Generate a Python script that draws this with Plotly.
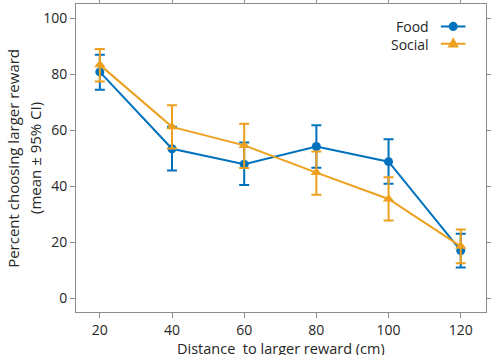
import plotly.graph_objects as go

distance = [20, 40, 60, 80, 100, 120]
food_mean = [80.8, 53.4, 47.9, 54.2, 48.8, 17.1]
food_upper = [86.9, 61.2, 55.6, 61.8, 56.8, 23.1]
food_lower = [74.4, 45.6, 40.5, 46.6, 40.9, 11.1]
social_mean = [83.3, 61.2, 54.6, 44.9, 35.5, 18.6]
social_upper = [89.0, 68.9, 62.3, 52.4, 43.2, 24.6]
social_lower = [77.4, 53.5, 46.5, 37.0, 27.8, 12.6]

BLUE = "#0072BD"
ORANGE = "#EDA01E"
TXT = "#262626"
AX = "#8c8c8c"

fig = go.Figure()

def add(name, mean, up, lo, color, symbol, size):
    fig.add_trace(go.Scatter(
        x=distance, y=mean, name=name, mode="lines+markers",
        line=dict(color=color, width=2),
        marker=dict(color=color, symbol=symbol, size=size),
        error_y=dict(type="data", symmetric=False,
                     array=[u - m for u, m in zip(up, mean)],
                     arrayminus=[m - l for m, l in zip(mean, lo)],
                     color=color, thickness=2, width=5),
        showlegend=False))

add("Food", food_mean, food_upper, food_lower, BLUE, "circle", 9)
add("Social", social_mean, social_upper, social_lower, ORANGE, "triangle-up", 10)

axis_common = dict(showline=True, linecolor=AX, linewidth=1, mirror="ticks",
                   ticks="outside", ticklen=5, tickcolor=AX, showgrid=False,
                   zeroline=False, automargin=False, tickfont=dict(size=14, color=TXT))

fig.update_xaxes(range=[13.4, 127], tickvals=distance, **axis_common)
fig.update_yaxes(range=[-4.8, 105], tickvals=[0, 20, 40, 60, 80, 100], **axis_common)

# Axis titles
fig.add_annotation(x=0.5, y=-0.116, xref="paper", yref="paper", text="Distance  to larger reward (cm)",
                   showarrow=False, xanchor="center", yanchor="middle", height=14,
                   font=dict(size=14.5, color=TXT))
fig.add_annotation(x=-0.154, y=0.5, xref="paper", yref="paper", text="Percent choosing larger reward",
                   showarrow=False, textangle=-90, xanchor="center", yanchor="middle",
                   font=dict(size=15, color=TXT))
fig.add_annotation(x=-0.1, y=0.5, xref="paper", yref="paper", text="(mean ± 95% CI)",
                   showarrow=False, textangle=-90, xanchor="center", yanchor="middle",
                   font=dict(size=15, color=TXT))

# Legend (text to the left of symbol)
legend_items = [("Food", BLUE, "circle", 0.927), ("Social", ORANGE, "triangle", 0.871)]
for label, color, sym, yp in legend_items:
    fig.add_annotation(x=0.865, y=yp, xref="paper", yref="paper", text=label,
                       showarrow=False, xanchor="right", yanchor="middle", height=16,
                       font=dict(size=14, color=TXT))
    fig.add_shape(type="line", xref="paper", yref="paper", x0=0.89, x1=0.95, y0=yp, y1=yp,
                  line=dict(color=color, width=2))
    cx = 0.92
    if sym == "circle":
        fig.add_shape(type="circle", xref="paper", yref="paper",
                      x0=cx - 0.011, x1=cx + 0.011, y0=yp - 0.015, y1=yp + 0.015,
                      fillcolor=color, line=dict(color=color, width=0))
    else:
        fig.add_shape(type="path", xref="paper", yref="paper",
                      path=f"M {cx-0.014} {yp-0.012} L {cx+0.014} {yp-0.012} L {cx} {yp+0.021} Z",
                      fillcolor=color, line=dict(color=color, width=0))

fig.update_layout(width=491, height=356, margin=dict(l=76, r=5, t=4, b=44),
                  plot_bgcolor="white", paper_bgcolor="white",
                  font=dict(family="Open Sans, Noto Sans, sans-serif", color=TXT))

fig.write_html("out.html", config={"displayModeBar": False},
               post_script="document.body.style.margin='0';document.body.style.overflow='hidden';")
